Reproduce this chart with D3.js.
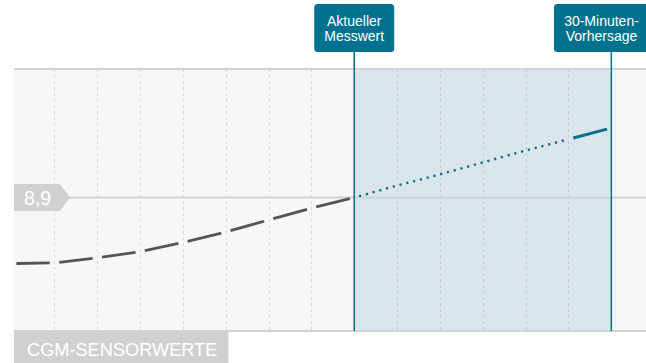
<!DOCTYPE html>
<html><head><meta charset="utf-8">
<script src="https://cdn.jsdelivr.net/npm/d3@7"></script>
<style>
html,body{margin:0;padding:0;background:#fff;}
svg{display:block;font-family:"Liberation Sans",Arial,Helvetica,sans-serif;}
</style></head>
<body>
<svg id="chart" width="646" height="363"></svg>
<script>
// ---- data ----
const historyMinutes = [-40, -35, -30, -25, -20, -15, -10, -5, 0];
const historyValues  = [7.96, 7.97, 8.04, 8.13, 8.26, 8.41, 8.58, 8.75, 8.9];
const forecastMinutes = [0, 5, 10, 15, 20, 25, 30];
const forecastValues  = [8.9, 9.07, 9.23, 9.40, 9.57, 9.73, 9.89];
const gridMinutes = [-35, -30, -25, -20, -15, -10, -5, 5, 10, 15, 20, 25];
const currentMinute = 0;
const forecastMinute = 30;
const referenceValue = 8.9;
const referenceLabel = "8,9";
const markerLabels = [["Aktueller", "Messwert"], ["30-Minuten-", "Vorhersage"]];
const seriesLabel = "CGM-SENSORWERTE";

// ---- layout ----
const W = 646, H = 363;
const plot = {left: 14, right: 646, top: 69, bottom: 331};
const BLUE = "#00718f", GREY_LINE = "#d2d2d2", LABEL_GREY = "#d0d0d0";

const x = d3.scaleLinear().domain([-40, 35]).range([11.4, 654.2]);
const y = d3.scaleLinear().domain([7, 10.73]).range([plot.bottom, plot.top]);

const svg = d3.select("#chart");
svg.append("defs").append("clipPath").attr("id", "plotclip")
  .append("rect").attr("x", plot.left).attr("y", plot.top)
  .attr("width", plot.right - plot.left).attr("height", plot.bottom - plot.top);

// background
svg.append("rect").attr("x", plot.left).attr("y", plot.top)
  .attr("width", plot.right - plot.left).attr("height", plot.bottom - plot.top)
  .attr("fill", "#f7f7f7");

// forecast shaded window
svg.append("rect").attr("x", x(currentMinute)).attr("y", plot.top)
  .attr("width", x(forecastMinute) - x(currentMinute)).attr("height", plot.bottom - plot.top)
  .attr("fill", "#dae5eb");

// vertical dashed grid
svg.append("g").selectAll("line").data(gridMinutes).join("line")
  .attr("x1", d => Math.round(x(d)) + 0.5).attr("x2", d => Math.round(x(d)) + 0.5)
  .attr("y1", plot.top).attr("y2", plot.bottom)
  .attr("stroke", "rgba(0,0,0,0.11)").attr("stroke-width", 1)
  .attr("stroke-dasharray", "3,3");

// reference horizontal line
svg.append("line").attr("x1", plot.left).attr("x2", plot.right)
  .attr("y1", y(referenceValue)).attr("y2", y(referenceValue))
  .attr("stroke", GREY_LINE).attr("stroke-width", 2);

// top & bottom borders
[plot.top, plot.bottom].forEach(v => {
  svg.append("line").attr("x1", plot.left).attr("x2", plot.right)
    .attr("y1", v).attr("y2", v).attr("stroke", GREY_LINE).attr("stroke-width", 2);
});

// shortened segment helper
function seg(p0, p1, g0, g1) {
  const dx = p1[0] - p0[0], dy = p1[1] - p0[1];
  const L = Math.hypot(dx, dy), ux = dx / L, uy = dy / L;
  return [[p0[0] + ux * g0, p0[1] + uy * g0], [p1[0] - ux * g1, p1[1] - uy * g1]];
}
const line = d3.line();
const lines = svg.append("g").attr("clip-path", "url(#plotclip)");

// history dashed line: one dash per 5-minute interval
const hPts = historyMinutes.map((t, i) => [x(t), y(historyValues[i])]);
for (let i = 0; i < hPts.length - 1; i++) {
  lines.append("path").attr("d", line(seg(hPts[i], hPts[i + 1], 5, 4.5)))
    .attr("fill", "none").attr("stroke", "#555").attr("stroke-width", 2.8);
}

// forecast: dotted then a final solid dash
const fPts = forecastMinutes.map((t, i) => [x(t), y(forecastValues[i])]);
const n = fPts.length;
const dotted = fPts.slice(0, n - 1).map(p => p.slice());
const s0 = seg(dotted[0], dotted[1], 5, 0); dotted[0] = s0[0];
const sE = seg(dotted[dotted.length - 2], dotted[dotted.length - 1], 0, 4); dotted[dotted.length - 1] = sE[1];
lines.append("path").attr("d", line(dotted))
  .attr("fill", "none").attr("stroke", BLUE).attr("stroke-width", 2.4)
  .attr("stroke-dasharray", "2.2,4.8");
lines.append("path").attr("d", line(seg(fPts[n - 2], fPts[n - 1], 5, 4.5)))
  .attr("fill", "none").attr("stroke", BLUE).attr("stroke-width", 3);

// marker lines + label boxes
const markers = [currentMinute, forecastMinute];
const boxTop = 4, boxBottom = 52, padX = 10;
markers.forEach((t, i) => {
  const mx = x(t);
  svg.append("line").attr("x1", mx).attr("x2", mx).attr("y1", boxBottom).attr("y2", plot.bottom)
    .attr("stroke", BLUE).attr("stroke-width", 1.5);
  const g = svg.append("g");
  const txt = g.append("text").attr("fill", "#fff").attr("font-size", 14)
    .attr("text-anchor", "middle");
  markerLabels[i].forEach((s, j) => {
    txt.append("tspan").attr("x", 0).attr("y", 25.5 + j * 15).text(s);
  });
  const tw = txt.node().getBBox().width;
  const bw = tw + padX * 2;
  let cx = mx;
  if (cx + bw / 2 > W + 3) cx = W + 3 - bw / 2;
  txt.attr("transform", `translate(${cx},0)`);
  g.insert("rect", "text").attr("x", cx - bw / 2).attr("y", boxTop)
    .attr("width", bw).attr("height", boxBottom - boxTop).attr("rx", 3.5)
    .attr("fill", BLUE);
});

// reference value tag
const ry = y(referenceValue);
svg.append("path")
  .attr("d", `M${plot.left},${ry - 13.5}H${plot.left + 46}L${plot.left + 56},${ry}L${plot.left + 46},${ry + 13.5}H${plot.left}Z`)
  .attr("fill", LABEL_GREY);
svg.append("text").attr("x", plot.left + 10).attr("y", ry + 7.5)
  .attr("fill", "#fff").attr("font-size", 19.5).text(referenceLabel);

// series label
const sl = svg.append("g");
const st = sl.append("text").attr("x", plot.left + 13).attr("y", 355.5)
  .attr("fill", "#fff").attr("font-size", 18.2).text(seriesLabel);
const sw = st.node().getBBox().width;
sl.insert("rect", "text").attr("x", plot.left).attr("y", plot.bottom + 1)
  .attr("width", sw + 24).attr("height", H - plot.bottom - 1).attr("fill", LABEL_GREY);
</script>
</body></html>
